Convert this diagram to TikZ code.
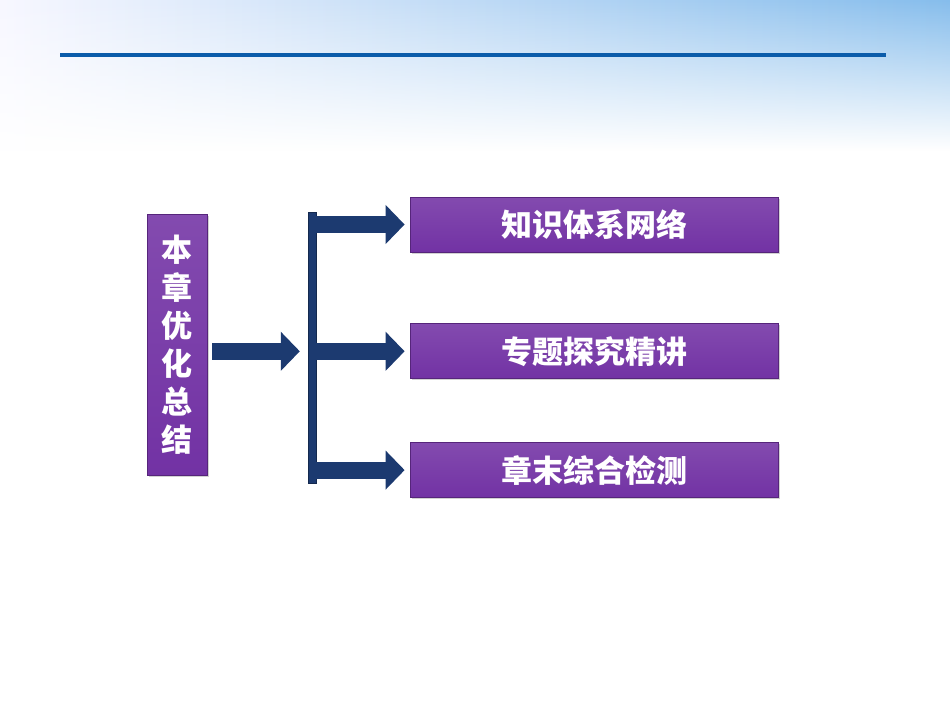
\documentclass[tikz,border=0pt]{standalone}
\usepackage{fontspec}
\newfontfamily\cjk{Noto Sans CJK SC}
\usetikzlibrary{positioning}
\usetikzlibrary{arrows.meta,shadows,fadings}
\definecolor{zise}{HTML}{7232A4}
\definecolor{shenlan}{HTML}{1C3A70}
\definecolor{xianlan}{HTML}{0B5CAA}
\definecolor{tianlan}{HTML}{86BDEC}

\tikzset{
	kuang/.style={rectangle, draw=zise!75!black, line width=0.8pt,
		top color=zise!88!white, bottom color=zise, text=white, align=center,
		font=\cjk\bfseries\fontsize{31}{38}\selectfont, inner sep=0pt,
		drop shadow={opacity=0.35, shadow xshift=1.5pt, shadow yshift=-1.5pt}},
	jiantou/.style={draw=shenlan, line width=17pt, -{Triangle[length=19pt,width=38pt]}},
}

\begin{document}
\begin{tikzpicture}[x=1pt,y=-1pt]
		\fill[white] (0,0) rectangle (950,713);
		\useasboundingbox (0,0) rectangle (950,713);
		\shade[left color=blue!3!white, right color=tianlan, path fading=south] (0,0) rectangle (950,150);
		\draw[xianlan, line width=4pt] (60,55) -- (886,55);
		\node[kuang, minimum width=60pt, minimum height=261pt] (zongjie) at (177,344.5) {本\\章\\优\\化\\总\\结};
		\node[kuang, minimum width=368pt, minimum height=55pt] (zhishi) at (594,224.5) {知识体系网络};
		\node[kuang, minimum width=368pt, minimum height=55pt, below= 71pt of zhishi] (zhuanti) {专题探究精讲};
		\node[kuang, minimum width=368pt, minimum height=55pt, below= 63pt of zhuanti] (jiance) {章末综合检测};
		\node[fill=shenlan, draw=shenlan!70!black, minimum width=8pt, minimum height=271pt, inner sep=0pt] (zhu) at (312,347.5) {};
		\path[jiantou, shorten <=5pt, shorten >=8pt] (zongjie.east |- zhuanti) -- (zhu.west |- zhuanti);
		\path[jiantou, shorten >=5pt] (zhu.east |- zhishi) -- (zhishi.west);
		\path[jiantou, shorten >=5pt] (zhu.east |- zhuanti) -- (zhuanti.west);
		\path[jiantou, shorten >=5pt] (zhu.east |- jiance) -- (jiance.west);
	\end{tikzpicture}
\end{document}
